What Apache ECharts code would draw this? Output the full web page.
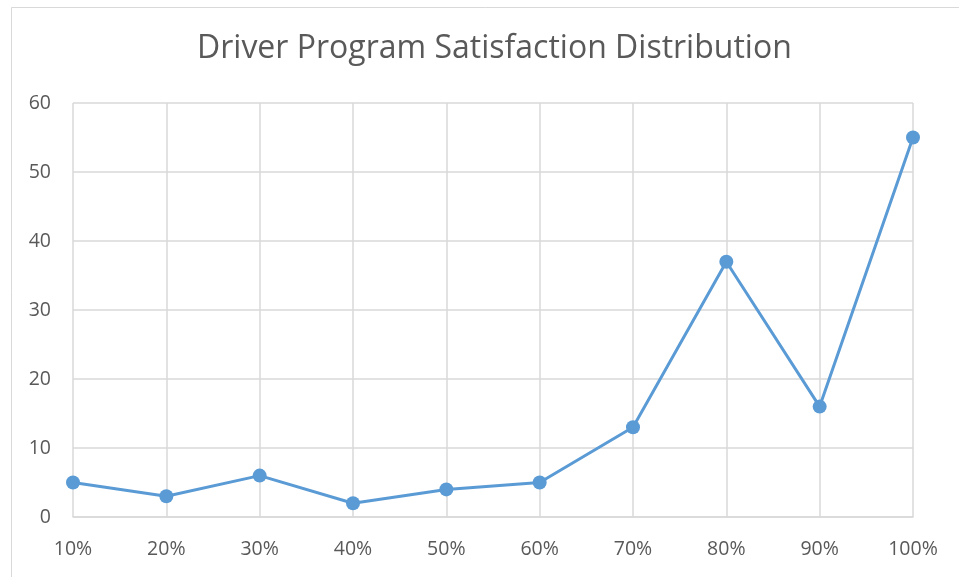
<!DOCTYPE html>
<html><head><meta charset="utf-8">
<script src="https://cdn.jsdelivr.net/npm/echarts@6/dist/echarts.min.js"></script>
<style>html,body{margin:0;padding:0;background:#fff}#c{width:959px;height:577px}</style>
</head><body><div id="c"></div>
<script>
const categories = ['10%','20%','30%','40%','50%','60%','70%','80%','90%','100%'];
const values = [5, 3, 6, 2, 4, 5, 13, 37, 16, 55];
const titleText = 'Driver Program Satisfaction Distribution';

const chart = echarts.init(document.getElementById('c'), null, {renderer:'canvas'});
chart.setOption({
  animation: false,
  backgroundColor: '#fff',
  graphic: [{
    type: 'rect', left: 9, top: 5, z: -10,
    shape: {width: 1000, height: 1000},
    style: {fill: 'none', stroke: '#d9d9d9', lineWidth: 1}
  }],
  title: {
    text: titleText, left: 192, top: 28,
    textStyle: {fontFamily: 'Open Sans', fontWeight: 'normal', fontSize: 32, color: '#595959'}
  },
  grid: {left: 73, right: 46, top: 103, bottom: 60, containLabel: false},
  xAxis: {
    type: 'category', data: categories, boundaryGap: false,
    axisLine: {show: true, lineStyle: {color: '#d9d9d9', width: 1.5}},
    axisTick: {show: false},
    splitLine: {show: true, lineStyle: {color: '#d9d9d9', width: 1.5}},
    axisLabel: {color: '#595959', fontSize: 19.5, fontFamily: 'Open Sans', margin: 22}
  },
  yAxis: {
    type: 'value', min: 0, max: 60, interval: 10,
    axisLine: {show: false}, axisTick: {show: false},
    splitLine: {lineStyle: {color: '#d9d9d9', width: 1.5}},
    axisLabel: {color: '#595959', fontSize: 19.5, fontFamily: 'Open Sans', margin: 22}
  },
  series: [{
    type: 'line', data: values,
    symbol: 'circle', symbolSize: 14,
    lineStyle: {color: '#5b9bd5', width: 3},
    itemStyle: {color: '#5b9bd5'}
  }]
});
</script></body></html>
